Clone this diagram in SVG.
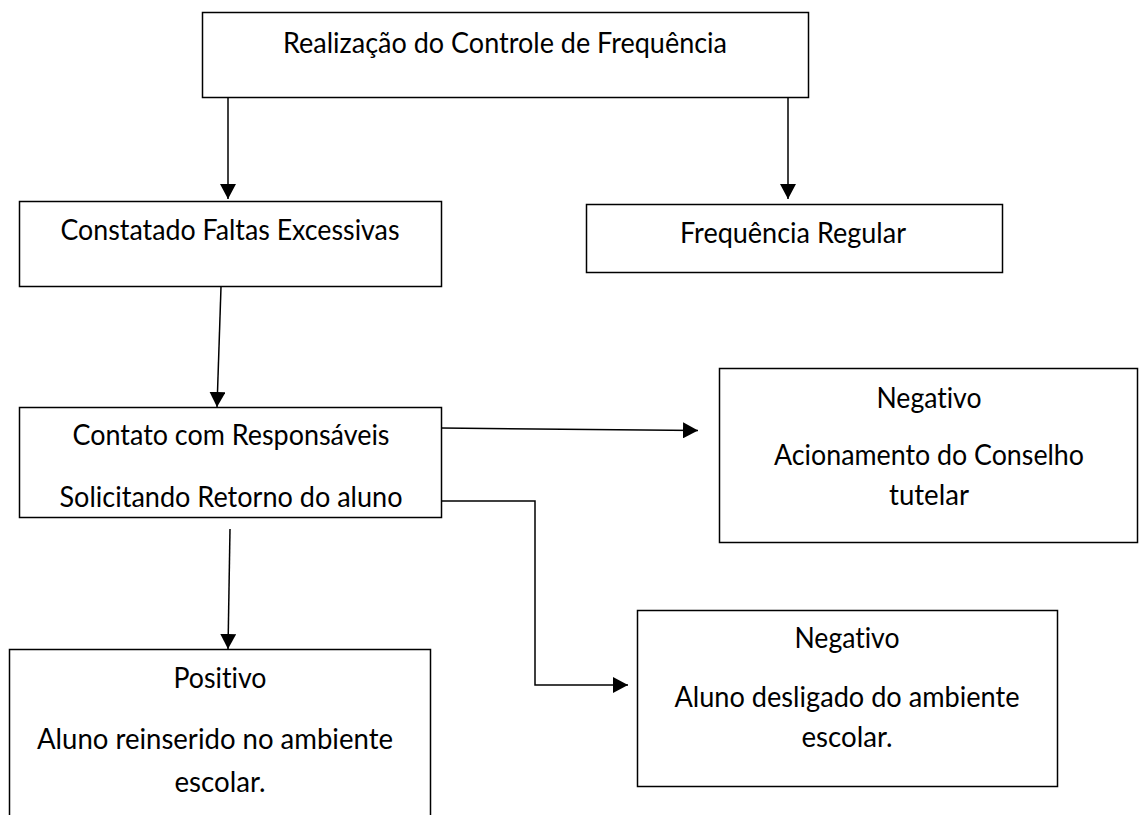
<svg xmlns="http://www.w3.org/2000/svg" width="1139" height="815" viewBox="0 0 1139 815">
<style>
.box{fill:#fff;stroke:#000;stroke-width:1.5}
.t{font-family:Lato,"Liberation Sans",sans-serif;font-size:29px;fill:#000;text-anchor:middle;font-variant-ligatures:none;font-feature-settings:"liga" 0}
.c{fill:none;stroke:#000;stroke-width:1.5}
</style>
<defs>
<marker id="ah" markerUnits="userSpaceOnUse" markerWidth="16" markerHeight="16" refX="15" refY="8" orient="auto">
<path d="M0,0 L15,8 L0,16 Z" fill="#000"/>
</marker>
</defs>
<rect width="1139" height="815" fill="#fff"/>
<g id="connectors">
<path class="c" d="M228,97.5 V199" marker-end="url(#ah)"/>
<path class="c" d="M788,97.5 V199" marker-end="url(#ah)"/>
<path class="c" d="M221,287 L217,407" marker-end="url(#ah)"/>
<path class="c" d="M441,428 L698,430.5" marker-end="url(#ah)"/>
<path class="c" d="M441,501 H535 V685 H628" marker-end="url(#ah)"/>
<path class="c" d="M230,529 L228,649" marker-end="url(#ah)"/>
</g>
<g id="n1">
<rect class="box" x="202.5" y="12.5" width="606" height="85"/>
<text class="t" x="505" y="53" textLength="444" lengthAdjust="spacingAndGlyphs">Realização do Controle de Frequência</text>
</g>
<g id="n2">
<rect class="box" x="19.5" y="201.5" width="422" height="85"/>
<text class="t" x="230" y="240" textLength="339" lengthAdjust="spacingAndGlyphs">Constatado Faltas Excessivas</text>
</g>
<g id="n3">
<rect class="box" x="586.5" y="204.5" width="416" height="68"/>
<text class="t" x="793" y="243" textLength="226" lengthAdjust="spacingAndGlyphs">Frequência Regular</text>
</g>
<g id="n4">
<rect class="box" x="19.5" y="407.5" width="422" height="110"/>
<text class="t" x="231" y="445" textLength="317" lengthAdjust="spacingAndGlyphs">Contato com Responsáveis</text>
<text class="t" x="231" y="507" textLength="343" lengthAdjust="spacingAndGlyphs">Solicitando Retorno do aluno</text>
</g>
<g id="n5">
<rect class="box" x="719.5" y="368.5" width="418" height="174"/>
<text class="t" x="929" y="408" textLength="105" lengthAdjust="spacingAndGlyphs">Negativo</text>
<text class="t" x="929" y="465" textLength="310" lengthAdjust="spacingAndGlyphs">Acionamento do Conselho</text>
<text class="t" x="929" y="505" textLength="80" lengthAdjust="spacingAndGlyphs">tutelar</text>
</g>
<g id="n6">
<rect class="box" x="637.5" y="610.5" width="420" height="176"/>
<text class="t" x="847" y="648" textLength="105" lengthAdjust="spacingAndGlyphs">Negativo</text>
<text class="t" x="847" y="707" textLength="345" lengthAdjust="spacingAndGlyphs">Aluno desligado do ambiente</text>
<text class="t" x="847" y="747" textLength="91" lengthAdjust="spacingAndGlyphs">escolar.</text>
</g>
<g id="n7">
<rect class="box" x="9.5" y="649.5" width="421" height="200"/>
<text class="t" x="220" y="688" textLength="93" lengthAdjust="spacingAndGlyphs">Positivo</text>
<text class="t" x="215" y="749" textLength="356" lengthAdjust="spacingAndGlyphs">Aluno reinserido no ambiente</text>
<text class="t" x="220" y="792" textLength="91" lengthAdjust="spacingAndGlyphs">escolar.</text>
</g>
</svg>
